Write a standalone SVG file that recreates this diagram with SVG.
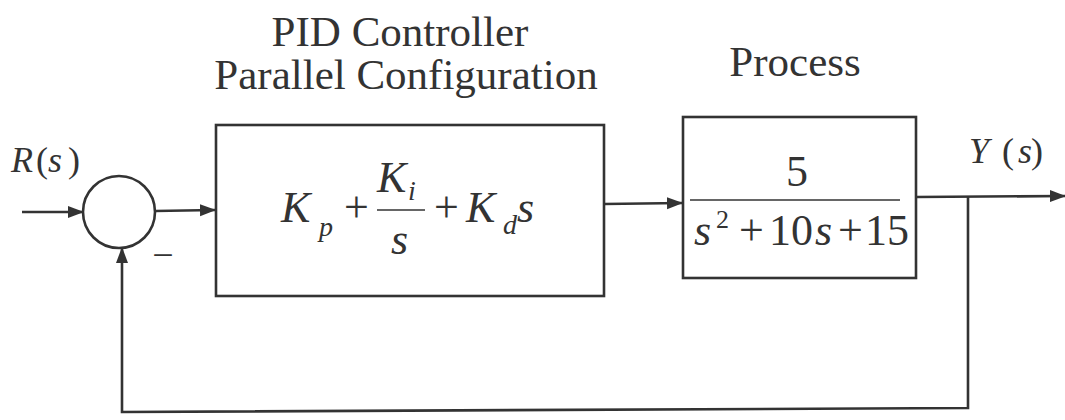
<svg xmlns="http://www.w3.org/2000/svg" width="1065" height="420" viewBox="0 0 1065 420">
<style>
.ln{stroke:#333;stroke-width:2.6;fill:none}
.box{stroke:#333;stroke-width:2.6;fill:none}
.t{font-family:"Liberation Serif","Times New Roman",serif;fill:#333}
.i{font-style:italic}
</style>
<defs>
<marker id="arr" markerUnits="userSpaceOnUse" markerWidth="16" markerHeight="14" refX="15" refY="6" orient="auto">
<path d="M0,0 L16,6 L0,12 Z" fill="#333"/>
</marker>
</defs>
<rect width="1065" height="420" fill="#fff"/>
<g id="labels">
<text class="t" x="400" y="46" font-size="43" text-anchor="middle">PID Controller</text>
<text class="t" x="406" y="89" font-size="43" text-anchor="middle">Parallel Configuration</text>
<text class="t" x="795" y="76" font-size="43" text-anchor="middle">Process</text>
<text class="t" y="172" font-size="36"><tspan class="i" x="11">R</tspan><tspan x="36">(</tspan><tspan class="i" x="48">s</tspan><tspan x="68">)</tspan></text>
<text class="t" y="163" font-size="36"><tspan class="i" x="969">Y</tspan><tspan x="1002">(</tspan><tspan class="i" x="1018">s</tspan><tspan x="1031">)</tspan></text>
</g>
<g id="sum">
<circle cx="119" cy="212" r="36" class="ln"/>
<text class="t" x="163" y="268" font-size="38" text-anchor="middle">−</text>
</g>
<g id="pid">
<rect x="216" y="125" width="388" height="171" class="box"/>
<text class="t i" font-size="44" x="281" y="222">K</text>
<text class="t i" font-size="28" x="319" y="236">p</text>
<text class="t" font-size="44" x="344" y="222">+</text>
<text class="t i" font-size="44" x="377" y="192">K</text>
<text class="t i" font-size="28" x="408" y="200">i</text>
<line x1="377" y1="210" x2="425" y2="210" stroke="#333" stroke-width="1.6"/>
<text class="t i" font-size="44" x="391" y="254">s</text>
<text class="t" font-size="44" x="434" y="222">+</text>
<text class="t i" font-size="44" x="466" y="222">K</text>
<text class="t i" font-size="28" x="503" y="234">d</text>
<text class="t i" font-size="44" x="517" y="222">s</text>
</g>
<g id="process">
<rect x="683" y="117" width="233" height="161" class="box"/>
<text class="t" font-size="44" x="797" y="186" text-anchor="middle">5</text>
<line x1="690" y1="200" x2="900" y2="200" stroke="#333" stroke-width="1.6"/>
<text class="t i" font-size="44" x="694" y="245">s</text>
<text class="t" font-size="26" x="716" y="228">2</text>
<text class="t" font-size="44" x="739" y="245">+</text>
<text class="t" font-size="44" x="769" y="245">10</text>
<text class="t i" font-size="44" x="815" y="245">s</text>
<text class="t" font-size="44" x="838" y="245">+</text>
<text class="t" font-size="44" x="865" y="245">15</text>
</g>
<g id="connectors">
<line x1="22" y1="212" x2="83" y2="212" class="ln" marker-end="url(#arr)"/>
<line x1="155" y1="211" x2="215" y2="210" class="ln" marker-end="url(#arr)"/>
<line x1="604" y1="204" x2="682" y2="203" class="ln" marker-end="url(#arr)"/>
<line x1="916" y1="197" x2="1065" y2="196" class="ln" marker-end="url(#arr)"/>
<polyline points="968,197 968,408 122,412 122,248" class="ln" marker-end="url(#arr)"/>
</g>
</svg>
